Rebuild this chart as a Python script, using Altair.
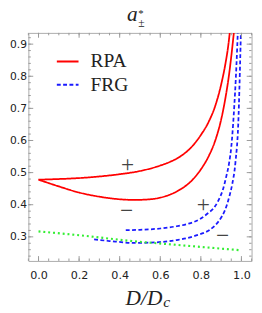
import altair as alt
import pandas as pd

# ---- data ----
D_rpa_plus = [0.0, 0.1, 0.2, 0.3, 0.4, 0.5, 0.6, 0.65, 0.7, 0.75, 0.8, 0.84, 0.87, 0.9, 0.92, 0.935, 0.945]
a_rpa_plus = [0.478, 0.480, 0.483, 0.488, 0.495, 0.505, 0.522, 0.534, 0.551, 0.577, 0.617, 0.660, 0.706, 0.774, 0.835, 0.895, 0.950]

D_rpa_minus = [0.0, 0.1, 0.2, 0.3, 0.4, 0.47, 0.55, 0.6, 0.65, 0.7, 0.75, 0.8, 0.84, 0.87, 0.9, 0.92, 0.94, 0.955, 0.965]
a_rpa_minus = [0.478, 0.457, 0.438, 0.425, 0.417, 0.415, 0.417, 0.422, 0.432, 0.448, 0.472, 0.510, 0.553, 0.598, 0.665, 0.728, 0.810, 0.890, 0.950]

D_frg_plus = [0.43, 0.5, 0.6, 0.68, 0.74, 0.8, 0.83, 0.87, 0.884, 0.91, 0.926, 0.939, 0.95, 0.962, 0.975, 0.983]
a_frg_plus = [0.321, 0.322, 0.326, 0.333, 0.341, 0.357, 0.371, 0.395, 0.410, 0.450, 0.490, 0.529, 0.580, 0.679, 0.829, 0.950]

D_frg_minus = [0.274, 0.35, 0.477, 0.55, 0.68, 0.77, 0.864, 0.905, 0.919, 0.94, 0.955, 0.97, 0.986, 0.993, 0.998]
a_frg_minus = [0.292, 0.287, 0.281, 0.282, 0.290, 0.303, 0.332, 0.365, 0.383, 0.425, 0.465, 0.529, 0.679, 0.830, 0.950]

D_green = [0.0, 0.2, 0.46, 0.7, 1.0]
a_green = [0.317, 0.305, 0.287, 0.274, 0.258]

sign_D = [0.439, 0.434, 0.812, 0.907]
sign_a = [0.529, 0.385, 0.406, 0.309]
sign_t = ["+", "\u2212", "+", "\u2212"]

x_major = [0.0, 0.2, 0.4, 0.6, 0.8, 1.0]
x_minor = [round(-0.05 + 0.05 * i, 2) for i in range(23)]
y_major = [0.3, 0.4, 0.5, 0.6, 0.7, 0.8, 0.9]
y_minor = [round(0.24 + 0.02 * i, 2) for i in range(35)]

W, H = 230, 235
XDOM = [-0.05, 1.05]
YDOM = [0.225, 0.935]

rows = []
for name, meth, Ds, As in [("rp", "RPA", D_rpa_plus, a_rpa_plus),
                           ("rm", "RPA", D_rpa_minus, a_rpa_minus),
                           ("fp", "FRG", D_frg_plus, a_frg_plus),
                           ("fm", "FRG", D_frg_minus, a_frg_minus)]:
    for i, (d, a) in enumerate(zip(Ds, As)):
        rows.append({"curve": name, "method": meth, "D": d, "a": a, "i": i})
df = pd.DataFrame(rows)

xs = alt.Scale(domain=XDOM, nice=False, zero=False)
ys = alt.Scale(domain=YDOM, nice=False, zero=False)

xaxis = alt.Axis(values=x_major, format=".1f", ticks=False, domain=False, grid=False, title=None,
                 labelFont="DejaVu Sans", labelFontSize=11.5, labelColor="#222", labelPadding=9,
                 labelOverlap=False)
yaxis = alt.Axis(values=y_major, format=".1f", ticks=False, domain=False, grid=False, title=None,
                 labelFont="DejaVu Sans", labelFontSize=11, labelColor="#222", labelPadding=2,
                 labelOverlap=False)

def X(field):
    return alt.X(field, scale=xs, axis=xaxis)

def Y(field):
    return alt.Y(field, scale=ys, axis=yaxis)

leg = alt.Legend(title=None, orient="none", legendX=28, legendY=17,
                 symbolType="stroke", symbolSize=500, symbolStrokeWidth=2,
                 labelFont="Liberation Serif", labelFontSize=20, labelColor="#222",
                 labelOffset=11, rowPadding=1)

lines = alt.Chart(df).mark_line(strokeWidth=1.8, interpolate="monotone", clip=True).encode(
    x=X("D:Q"),
    y=Y("a:Q"),
    color=alt.Color("method:N", scale=alt.Scale(domain=["RPA", "FRG"], range=["#ff0000", "#1a1aff"]), legend=leg),
    strokeDash=alt.StrokeDash("method:N", scale=alt.Scale(domain=["RPA", "FRG"], range=[[1, 0], [4, 2.5]]), legend=leg),
    detail="curve:N",
    order="i:Q",
)

green = alt.Chart(pd.DataFrame({"D": D_green, "a": a_green})).mark_line(
    color="#33ee33", strokeDash=[2, 3], strokeWidth=2.2, interpolate="monotone").encode(
    x=X("D:Q"), y=Y("a:Q"))

signs = alt.Chart(pd.DataFrame({"D": sign_D, "a": sign_a, "t": sign_t})).mark_text(
    font="Liberation Serif", fontSize=24, color="#444", baseline="middle", dy=2).encode(
    x=X("D:Q"), y=Y("a:Q"), text="t:N")

def ticks(vals, axis, length):
    d = pd.DataFrame({"v": vals})
    base = alt.Chart(d).mark_rule(color="#999", strokeWidth=1)
    if axis == "x":
        bot = base.encode(x=X("v:Q"), y=alt.value(H), y2=alt.value(H - length))
        top = base.encode(x=X("v:Q"), y=alt.value(0), y2=alt.value(length))
    else:
        bot = base.encode(y=Y("v:Q"), x=alt.value(0), x2=alt.value(length))
        top = base.encode(y=Y("v:Q"), x=alt.value(W), x2=alt.value(W - length))
    return [bot, top]

tick_layers = ticks(x_minor, "x", 2.5) + ticks(x_major, "x", 5) + ticks(y_minor, "y", 2.5) + ticks(y_major, "y", 5)

def label(text, x, y, size, style="italic", align="center"):
    return alt.Chart(pd.DataFrame({"t": [text]})).mark_text(
        font="Liberation Serif", fontSize=size, fontStyle=style, color="#222",
        align=align, baseline="alphabetic").encode(
        text="t:N", x=alt.value(x), y=alt.value(y))

texts = [
    label("a", 107, -12, 22),
    label("*", 116, -16, 11, "normal"),
    label("\u00b1", 116.5, -6, 12, "normal"),
    label("D/D", 138, 280, 22, "italic", "right"),
    label("c", 139, 282, 16, "italic", "left"),
]

chart = alt.layer(lines, green, signs, *tick_layers, *texts).properties(
    width=W, height=H,
    padding={"left": 21, "top": 21, "right": 2.5, "bottom": 49},
    autosize=alt.AutoSizeParams(type="none"),
).configure_view(stroke="#aaa", strokeWidth=1)

chart.save("out.html", embed_options={"renderer": "svg", "actions": False})
